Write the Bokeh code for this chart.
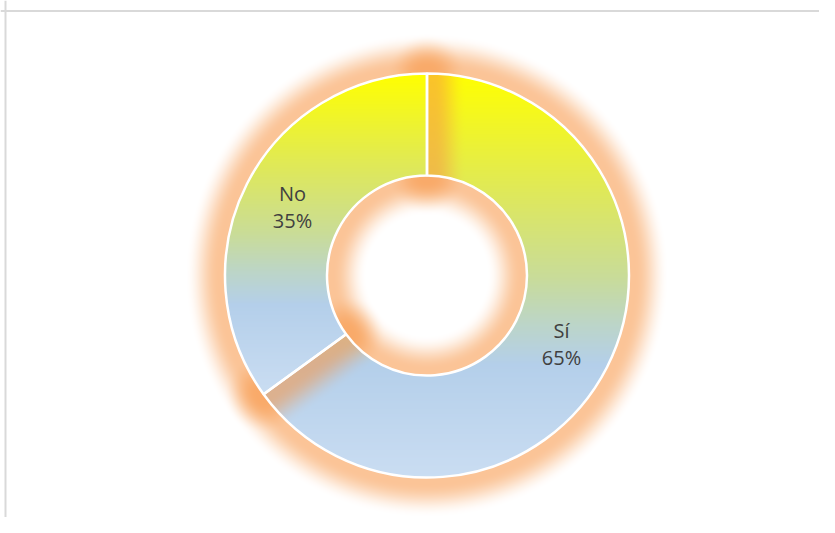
import numpy as np
from bokeh.plotting import figure
from bokeh.models import Range1d, Span, ColumnDataSource
from bokeh.embed import file_html
from bokeh.resources import INLINE
from bokeh.core.properties import value

# ---- data ----
labels = ["Sí", "No"]
values = [65, 35]

# ---- style ----
R_OUT = 202.0
R_IN = 100.0
GLOW_FLAT = 6.0
GLOW_W = 34.0
GLOW_A = 0.56
GLOW_RGB = np.array([247, 150, 70]) / 255.0
grad_pos = [0.0, 0.3, 0.5, 0.62, 0.72, 1.0]
grad_hex = ["#FFFF00", "#DEE85C", "#C9DC98", "#BCD5C8", "#B4CFEA", "#CADDF2"]

def hex2rgb(h):
    h = h.lstrip("#")
    return np.array([int(h[i:i + 2], 16) for i in (0, 2, 4)]) / 255.0

grad_rgb = np.array([hex2rgb(h) for h in grad_hex])

total = float(sum(values))
fracs = [v / total for v in values]
cum = np.concatenate([[0.0], np.cumsum(fracs)])
a0_deg = [360 * cum[i] for i in range(len(values))]
a1_deg = [360 * cum[i + 1] for i in range(len(values))]

# ---- raster of gradient fill + glow (computed from the data angles) ----
HALF = 260
N = 2 * HALF
xs = -HALF + 0.5 + np.arange(N)
ys = -HALF + 0.5 + np.arange(N)
X, Y = np.meshgrid(xs, ys)
Rr = np.hypot(X, Y)
TH = (90 - np.degrees(np.arctan2(Y, X))) % 360


def seg_dist(px, py, ax, ay, bx, by):
    vx, vy = bx - ax, by - ay
    t = np.clip(((px - ax) * vx + (py - ay) * vy) / (vx * vx + vy * vy), 0, 1)
    return np.hypot(px - (ax + t * vx), py - (ay + t * vy))


def edge(theta_deg):
    t = np.radians(theta_deg)
    return (R_IN * np.sin(t), R_IN * np.cos(t), R_OUT * np.sin(t), R_OUT * np.cos(t))


rgb = np.ones((N, N, 3))
for i in range(len(values)):
    a0, a1 = a0_deg[i], a1_deg[i]
    in_ang = (TH >= a0) & (TH <= a1)
    d_rad = np.maximum(Rr - R_OUT, R_IN - Rr)
    inside = in_ang & (d_rad <= 0)
    d_e = np.minimum(seg_dist(X, Y, *edge(a0)), seg_dist(X, Y, *edge(a1)))
    d = np.where(in_ang, np.minimum(np.maximum(d_rad, 0), d_e), d_e)
    d[inside] = 0
    u = np.clip((d - GLOW_FLAT) / GLOW_W, 0, 1)
    g = GLOW_A * 0.5 * (1 + np.cos(np.pi * u))
    g[inside] = 0
    rgb = rgb * (1 - g[..., None]) + GLOW_RGB[None, None, :] * g[..., None]
    # gradient over the slice's vertical extent
    ang = np.linspace(a0, a1, 400)
    yy = np.concatenate([R_OUT * np.cos(np.radians(ang)), R_IN * np.cos(np.radians(ang))])
    top, bot = yy.max(), yy.min()
    f = np.clip((top - Y) / (top - bot), 0, 1)
    col = np.stack([np.interp(f, grad_pos, grad_rgb[:, k]) for k in range(3)], axis=-1)
    rgb[inside] = col[inside]

img = np.zeros((N, N), dtype=np.uint32)
view = img.view(dtype=np.uint8).reshape((N, N, 4))
view[..., 0:3] = np.clip(np.round(rgb * 255), 0, 255).astype(np.uint8)
view[..., 3] = 255

# ---- figure ----
W, H = 819, 517
cx, cy = 426.5, 275.0
p = figure(width=W, height=H, output_backend="svg", toolbar_location=None,
           x_range=Range1d(-cx, W - cx), y_range=Range1d(-(H - cy), cy),
           min_border=0)
p.axis.visible = False
p.grid.visible = False
p.outline_line_color = None
p.background_fill_color = "white"
p.border_fill_color = "white"

p.image_rgba(image=[img], x=-HALF, y=-HALF, dw=N, dh=N)

start = [np.pi / 2 - 2 * np.pi * cum[i] for i in range(len(values))]
end = [np.pi / 2 - 2 * np.pi * cum[i + 1] for i in range(len(values))]
src = ColumnDataSource(dict(start=start, end=end, label=labels, value=values))
p.annular_wedge(x=0, y=0, inner_radius=R_IN, outer_radius=R_OUT,
                start_angle="start", end_angle="end", direction="clock",
                fill_alpha=0, line_color="white", line_width=2.5, source=src)

mid = [(s + e) / 2 for s, e in zip(start, end)]
rl = (R_IN + R_OUT) / 2
lx = [rl * np.cos(m) for m in mid]
ly = [rl * np.sin(m) for m in mid]
txt = [f"{l}\n{round(100 * v / total)}%" for l, v in zip(labels, values)]
p.text(x=lx, y=ly, text=txt, text_align="center", text_baseline="middle",
       text_font=value("Open Sans"), text_font_size="20px", text_color="#404040",
       text_line_height=1.0)

# chart-area frame lines (top and left)
p.add_layout(Span(location=cy - 10.5, dimension="width", line_color="#d9d9d9", line_width=2))
p.add_layout(Span(location=-cx + 5, dimension="height", line_color="#d9d9d9", line_width=2))

open("out.html", "w").write(file_html(p, INLINE))
